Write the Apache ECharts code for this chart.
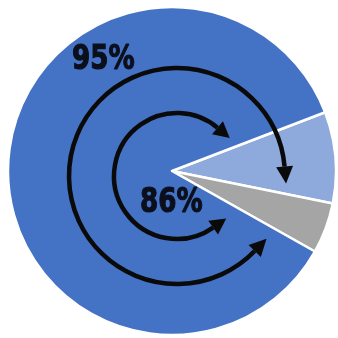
<!DOCTYPE html>
<html>
<head>
<meta charset="utf-8">
<script src="https://cdn.jsdelivr.net/npm/echarts@6/dist/echarts.min.js"></script>
<style>
html,body{margin:0;padding:0;background:#fff;}
#c{width:338px;height:338px;}
</style>
</head>
<body>
<div id="c"></div>
<script>
var categories = ['Main', 'Second', 'Other'];
var values = [9, 5, 86];
var colors = ['#8EA9DB', '#A5A5A5', '#4472C4'];
var annotationLabels = ['95%', '86%'];

var chart = echarts.init(document.getElementById('c'));

var ARC_C = [177, 176];
function arrowArc(r, a0deg, a1deg, lw, headLen, headW) {
  var els = [];
  var a0 = a0deg * Math.PI / 180, a1 = a1deg * Math.PI / 180;
  els.push({
    type: 'arc',
    shape: {cx: ARC_C[0], cy: ARC_C[1], r: r, startAngle: a0, endAngle: a1, clockwise: true},
    style: {stroke: '#0a0a0a', lineWidth: lw, fill: null, lineCap: 'butt'},
    z: 10
  });
  function head(a, dirSign) {
    var bx = ARC_C[0] + r * Math.cos(a), by = ARC_C[1] + r * Math.sin(a);
    var tx = -Math.sin(a) * dirSign, ty = Math.cos(a) * dirSign;
    var nx = Math.cos(a), ny = Math.sin(a);
    var tip = [bx + tx * headLen, by + ty * headLen];
    var p1 = [bx + nx * headW / 2, by + ny * headW / 2];
    var p2 = [bx - nx * headW / 2, by - ny * headW / 2];
    return {type: 'polygon', shape: {points: [p1, tip, p2]}, style: {fill: '#0a0a0a'}, z: 10};
  }
  els.push(head(a1, 1));
  els.push(head(a0, -1));
  return els;
}

var graphics = [];
graphics = graphics.concat(arrowArc(108, 44, 355, 4.5, 17, 17));
graphics = graphics.concat(arrowArc(63, 55, 310, 4.5, 16, 17));
var labelPos = [[72, 60], [140, 203]];
annotationLabels.forEach(function (t, i) {
  graphics.push({
    type: 'text', x: labelPos[i][0], y: labelPos[i][1], scaleX: 0.77, z: 20,
    style: {text: t, x: 0, y: 0, textAlign: 'left', textVerticalAlign: 'middle',
      font: 'bold 34px "DejaVu Sans",sans-serif', fill: '#0b0f1c',
      stroke: '#0b0f1c', lineWidth: 1.2}
  });
});

chart.setOption({
  animation: false,
  series: [{
    type: 'pie',
    center: [172, 171],
    radius: 164,
    startAngle: 21,
    clockwise: true,
    label: {show: false},
    labelLine: {show: false},
    itemStyle: {borderColor: '#ffffff', borderWidth: 2.5},
    emphasis: {disabled: true},
    data: categories.map(function (n, i) {
      return {name: n, value: values[i], itemStyle: {color: colors[i]}};
    })
  }],
  graphic: graphics
});
</script>
</body>
</html>
